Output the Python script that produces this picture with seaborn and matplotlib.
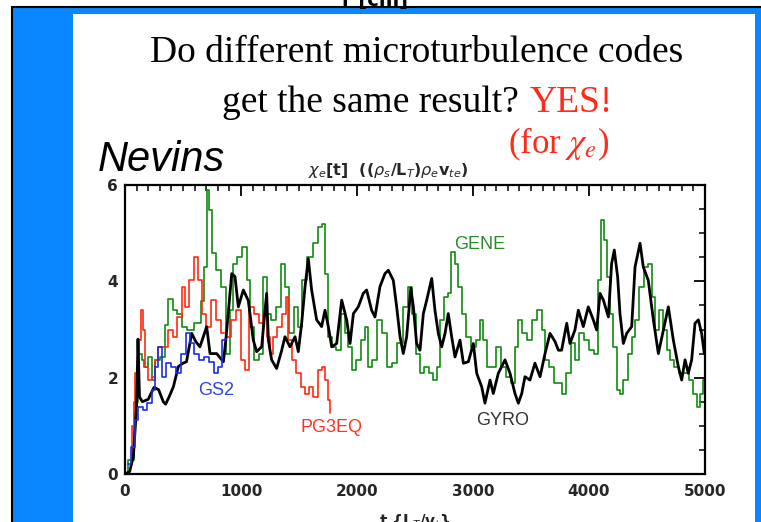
import matplotlib
matplotlib.use("Agg")
import matplotlib.pyplot as plt
from matplotlib.patches import Rectangle
from matplotlib.lines import Line2D
from matplotlib.ticker import MultipleLocator
import seaborn as sns

# ---------------- data ----------------
gyro_t = [0, 40, 72, 100, 112, 125, 150, 200, 250, 290, 330, 350, 380, 417, 460, 500, 530, 575, 610, 646,
          704, 733, 790, 848, 870, 890, 920, 948, 977, 1020, 1063, 1106, 1135, 1178, 1221, 1236, 1264, 1307,
          1351, 1379, 1422, 1466, 1494, 1523, 1552, 1580, 1609, 1652, 1695, 1724, 1753, 1782, 1825, 1868,
          1911, 1940, 1969, 2011, 2054, 2083, 2126, 2155, 2198, 2241, 2270, 2313, 2342, 2371, 2399, 2428,
          2464, 2486, 2514, 2543, 2572, 2601, 2644, 2672, 2701, 2730, 2759, 2787, 2816, 2845, 2888, 2917,
          2960, 3003, 3032, 3075, 3103, 3147, 3175, 3218, 3276, 3319, 3362, 3391, 3420, 3448, 3491, 3534,
          3578, 3621, 3664, 3707, 3736, 3764, 3808, 3836, 3879, 3908, 3951, 3994, 4037, 4066, 4095, 4124,
          4167, 4195, 4218, 4247, 4267, 4296, 4325, 4368, 4397, 4440, 4468, 4511, 4555, 4598, 4641, 4684,
          4727, 4770, 4799, 4828, 4856, 4885, 4914, 4943, 4971, 4994]
gyro_y = [0.0, 0.05, 0.36, 1.4, 2.8, 1.6, 1.5, 1.55, 1.8, 1.75, 1.5, 1.45, 1.6, 1.81, 2.23, 2.3, 2.33, 2.92, 2.75, 2.64,
          3.06, 2.5, 2.5, 2.33, 2.8, 3.33, 4.16, 4.1, 3.47, 3.82, 3.6, 2.78, 2.54, 2.64, 3.75, 2.78, 2.37, 2.19,
          2.57, 2.85, 2.64, 2.85, 2.54, 3.13, 3.89, 4.47, 3.82, 3.2, 3.06, 3.4, 3.06, 2.64, 2.71, 3.61,
          3.2, 2.71, 3.33, 3.47, 3.75, 3.82, 3.4, 3.26, 3.89, 4.16, 4.23, 4.02, 3.47, 2.85, 2.5, 2.85,
          3.86, 3.47, 2.71, 2.57, 3.33, 3.61, 4.06, 3.4, 2.92, 2.64, 2.92, 3.33, 2.85, 2.43, 2.78, 2.3,
          2.33, 2.71, 2.09, 1.81, 1.47, 1.95, 1.67, 2.09, 2.37, 2.09, 1.67, 1.47, 1.67, 2.02, 1.95, 2.3,
          2.02, 2.5, 2.92, 2.75, 2.57, 2.57, 3.13, 2.71, 2.99, 3.4, 3.06, 3.47, 3.2, 2.99, 3.75, 3.61,
          3.26, 4.37, 4.65, 4.09, 3.33, 2.71, 2.92, 3.06, 4.3, 4.79, 4.3, 4.02, 3.2, 2.5, 2.99, 3.47,
          2.78, 2.23, 1.95, 2.37, 2.09, 2.37, 3.13, 3.2, 2.92, 2.5]

gene_t = [0, 60, 100, 130, 158, 175, 215, 244, 273, 330, 360, 388, 431, 474, 517, 560, 632, 670, 690, 718,
          733, 761, 804, 848, 890, 920, 948, 991, 1034, 1063, 1092, 1135, 1178, 1207, 1236, 1279, 1322, 1365,
          1394, 1437, 1480, 1509, 1537, 1595, 1638, 1681, 1710, 1739, 1767, 1796, 1839, 1882, 1911, 1940,
          1969, 2011, 2054, 2083, 2112, 2155, 2198, 2241, 2284, 2327, 2371, 2414, 2457, 2486, 2529, 2558,
          2601, 2644, 2672, 2701, 2730, 2773, 2802, 2825, 2859, 2888, 2917, 2960, 3003, 3046, 3075, 3103,
          3132, 3175, 3218, 3261, 3305, 3348, 3376, 3405, 3448, 3491, 3534, 3578, 3606, 3635, 3678, 3721,
          3750, 3779, 3822, 3865, 3894, 3937, 3980, 4023, 4066, 4095, 4115, 4138, 4167, 4195, 4224, 4253,
          4282, 4310, 4354, 4382, 4411, 4454, 4497, 4526, 4555, 4583, 4626, 4655, 4684, 4713, 4756, 4799,
          4842, 4885, 4914, 4943, 4971, 4994]
gene_y = [0.0, 0.3, 1.5, 2.5, 2.37, 2.23, 2.43, 1.95, 2.37, 2.43, 3.1, 3.64, 3.4, 3.33, 3.06, 2.99, 3.13, 3.6, 4.3, 5.89,
          5.48, 4.58, 4.23, 3.89, 2.5, 3.4, 4.37, 4.51, 4.72, 4.02, 3.06, 2.37, 2.5, 4.09, 3.33, 3.2, 3.47, 4.37,
          3.89, 2.92, 3.47, 3.06, 4.02, 4.51, 4.79, 5.13, 5.2, 4.16, 2.85, 2.64, 2.57, 3.33, 2.92, 2.64,
          2.16, 2.37, 2.78, 3.06, 2.23, 2.37, 3.2, 2.92, 2.23, 2.3, 2.71, 3.47, 3.89, 3.33, 2.5, 2.09,
          2.23, 2.09, 1.95, 2.23, 3.2, 3.68, 3.75, 4.61, 4.37, 3.89, 3.33, 2.85, 2.64, 2.78, 3.2, 2.78,
          2.23, 2.23, 2.64, 2.23, 2.02, 1.88, 2.64, 3.2, 2.92, 2.78, 3.2, 3.4, 2.99, 2.37, 2.23, 1.88,
          1.88, 1.67, 2.09, 2.71, 2.37, 2.92, 2.78, 2.57, 2.5, 4.02, 5.27, 4.86, 4.09, 3.33, 2.64, 1.74,
          1.67, 1.95, 2.5, 2.85, 3.2, 3.89, 4.3, 4.37, 3.68, 2.99, 3.4, 2.99, 2.57, 2.37, 2.23, 2.09,
          2.09, 1.95, 1.67, 1.4, 1.67, 1.95]

pg3eq_t = [40, 80, 100, 124, 144, 164, 187, 215, 244, 273, 302, 345, 388, 431, 474, 503, 532, 575, 618, 646,
           675, 718, 761, 804, 848, 890, 934, 977, 1020, 1049, 1092, 1135, 1178, 1207, 1236, 1264, 1293, 1336,
           1379, 1394, 1422, 1451, 1494, 1537, 1566, 1609, 1638, 1681, 1710, 1739, 1759, 1767]
pg3eq_y = [0.2, 1.0, 2.09, 2.78, 3.4, 2.99, 2.23, 1.95, 2.02, 2.37, 2.64, 2.64, 2.99, 2.85, 3.26, 3.89, 3.47, 4.02, 4.51, 4.02,
           3.33, 3.06, 3.61, 3.2, 2.92, 2.85, 3.2, 3.4, 2.37, 2.16, 3.47, 3.33, 3.13, 3.3, 2.85, 2.5, 2.85, 3.06,
           3.33, 3.68, 2.78, 2.37, 2.09, 1.81, 1.67, 1.81, 1.6, 2.16, 2.23, 1.95, 1.54, 1.26]

gs2_t = [30, 72, 100, 130, 172, 215, 244, 273, 302, 330, 373, 417, 460, 503, 546, 575, 618, 661, 704, 747,
         790, 819, 848, 870]
gs2_y = [0.2, 0.57, 1.12, 1.4, 1.33, 1.47, 1.74, 2.23, 2.64, 2.02, 2.3, 2.23, 2.09, 2.5, 2.92, 2.71, 2.5, 2.37, 2.43, 2.33,
         2.09, 2.23, 2.78, 2.81]

x_ticks = [0, 1000, 2000, 3000, 4000, 5000]
y_ticks = [0, 2, 4, 6]

# ---------------- styling ----------------
sns.set_style("white")
plt.rcParams["font.family"] = ["DejaVu Sans"]

W, H = 761, 522
fig = plt.figure(figsize=(W / 100, H / 100), dpi=100)
fig.patch.set_facecolor("white")

def fx(px):
    return px / W

def fy(py):
    return 1 - py / H

BLUE = "#0a87ff"
fig.patches.append(Rectangle((fx(13), 0), fx(761 - 13), (H - 8) / H, transform=fig.transFigure,
                             facecolor=BLUE, edgecolor="none", zorder=-10))
fig.patches.append(Rectangle((fx(73), 0), fx(755 - 73), (H - 14) / H, transform=fig.transFigure,
                             facecolor="white", edgecolor="none", zorder=-9))
fig.lines.append(Line2D([fx(12), 1], [fy(7), fy(7)], transform=fig.transFigure, color="black", lw=1.5, zorder=-8))
fig.lines.append(Line2D([fx(12), fx(12)], [0, fy(7)], transform=fig.transFigure, color="black", lw=1.5, zorder=-8))

# cut-off text at the very top
fig.text(fx(375), fy(6), "r [cm]", ha="center", va="baseline", fontsize=14, fontweight="bold", color="black")

# slide title
serif = ["Liberation Serif", "DejaVu Serif"]
fig.text(fx(417), fy(62), "Do different microturbulence codes", ha="center", va="baseline",
         fontsize=27, family=serif, color="black")
fig.text(fx(519), fy(112), "get the same result?", ha="right", va="baseline",
         fontsize=27, family=serif, color="black")
fig.text(fx(530), fy(112), "YES!", ha="left", va="baseline", fontsize=27, family=serif, color="#ff2a1a")
fig.text(fx(508), fy(153), r"(for $\chi_e$)", ha="left", va="baseline", fontsize=25, family=serif,
         color="#ff2a1a", math_fontfamily="stix")
fig.text(fx(98), fy(171), "Nevins", ha="left", va="baseline", fontsize=30, family=["Liberation Sans"],
         style="italic", color="black")

# ---------------- plot ----------------
ax = fig.add_axes([fx(125), (H - 474) / H, fx(580), 289 / H])
ax.set_facecolor("white")

sns.lineplot(x=gene_t, y=gene_y, ax=ax, color="#128a12", lw=1.2, drawstyle="steps-mid", estimator=None)
sns.lineplot(x=pg3eq_t, y=pg3eq_y, ax=ax, color="#ff2a10", lw=1.2, drawstyle="steps-mid", estimator=None)
sns.lineplot(x=gyro_t, y=gyro_y, ax=ax, color="black", lw=2.0, estimator=None)
sns.lineplot(x=gs2_t, y=gs2_y, ax=ax, color="#1a2ee6", lw=1.2, drawstyle="steps-mid", estimator=None)

ax.set_xlim(0, 5000)
ax.set_ylim(0, 6)
ax.set_xticks(x_ticks)
ax.set_yticks(y_ticks)
ax.xaxis.set_minor_locator(MultipleLocator(100))
ax.yaxis.set_minor_locator(MultipleLocator(0.5))
ax.tick_params(which="both", direction="in", top=True, right=True, color="black")
ax.tick_params(which="major", length=8, width=1.3)
ax.tick_params(which="minor", length=4, width=1.1)
ax.tick_params(axis="x", which="major", pad=7, labelsize=11)
ax.tick_params(axis="y", which="major", pad=5, labelsize=11)
for lab in ax.get_xticklabels() + ax.get_yticklabels():
    lab.set_fontweight("bold")
for s in ax.spines.values():
    s.set_visible(True)
    s.set_linewidth(1.6)
    s.set_color("black")

ax.set_title(r"$\chi_e$[t]  (($\rho_s$/L$_T$)$\rho_e$v$_{te}$)", fontsize=11.5, fontweight="bold",
             pad=7, x=(388 - 125) / 580, math_fontfamily="dejavusans")
ax.set_xlabel(r"t {L$_T$/v$_t$}", fontsize=11, fontweight="bold")
ax.xaxis.set_label_coords(0.5, (474 - 512) / 289)
ax.set_ylabel("")

# code labels
lab_font = ["Liberation Sans", "DejaVu Sans"]
def px2data(px, py):
    return ((px - 125) / 580 * 5000, (474 - py) / 289 * 6)

for name, (px, py), col in [("GENE", (454, 249), "#2a8a2a"), ("GS2", (198, 395), "#3344dd"),
                            ("PG3EQ", (301, 432), "#ff3322"), ("GYRO", (476, 425), "#333333")]:
    xd, yd = px2data(px, py)
    ax.text(xd, yd, name, ha="left", va="baseline", fontsize=13, family=lab_font, color=col)

fig.savefig("out.png", dpi=100)
